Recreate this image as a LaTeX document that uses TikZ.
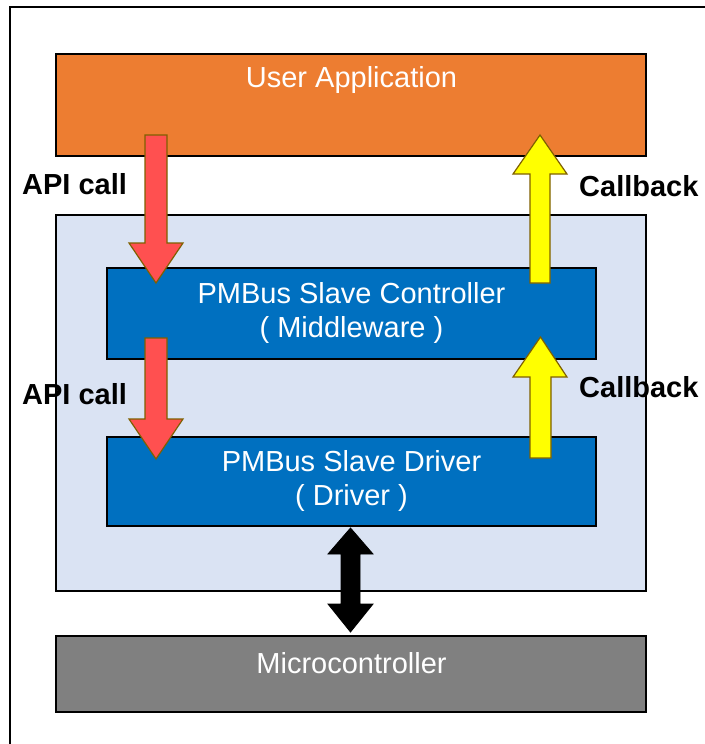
\documentclass[tikz,border=0pt]{standalone}
\usepackage{fontspec}
\setmainfont{Liberation Sans}
\definecolor{uaorange}{HTML}{ED7D31}
\definecolor{pale}{HTML}{DAE3F3}
\definecolor{mwblue}{HTML}{0070C0}
\definecolor{mcgray}{HTML}{808080}
\definecolor{redarrow}{HTML}{FF5050}
\definecolor{yelarrow}{HTML}{FFFF00}
\definecolor{arrowedge}{HTML}{7F6000}
\begin{document}
\begin{tikzpicture}[x=1pt,y=-1pt,
  box/.style={draw=black,line width=1.3pt,inner sep=0pt},
  boxtext/.style={text=white,font=\fontsize{29}{34}\selectfont,anchor=base},
  lbl/.style={font=\fontsize{29}{34}\selectfont\bfseries,anchor=base west,inner sep=0pt},
  redblk/.style={fill=redarrow,draw=arrowedge,line width=1.2pt,line join=miter},
  yelblk/.style={fill=yelarrow,draw=arrowedge,line width=1.2pt,line join=miter},
  blkblk/.style={fill=black,draw=black,line width=0.8pt,line join=miter}]
\useasboundingbox (0,0) rectangle (704,744);
% outer frame
\draw[line width=2pt] (9.5,746) -- (9.5,7) -- (706,7);
% boxes
\path[box,fill=uaorange] (56,54) rectangle (646,156);
\path[box,fill=pale] (56,215) rectangle (646,591);
\path[box,fill=mwblue] (107,268) rectangle (596,359);
\path[box,fill=mwblue] (107,437) rectangle (596,526);
\path[box,fill=mcgray] (56,636) rectangle (646,712);
% box texts
\node[boxtext] (ua) at (351.5,87.5) {User Application};
\node[boxtext] (mw1) at (351.5,303) {PMBus Slave Controller};
\node[boxtext] (mw2) at (351.5,337) {( Middleware )};
\node[boxtext] (dr1) at (351.5,471) {PMBus Slave Driver};
\node[boxtext] (dr2) at (351.5,505) {( Driver )};
\node[boxtext] (mc) at (351.5,673) {Microcontroller};
% red arrows (API call)
\draw[redblk] (145,135) -- (167,135) -- (167,243) -- (183,243) -- (156,283) -- (129,243) -- (145,243) -- cycle;
\draw[redblk] (145,338) -- (167,338) -- (167,419) -- (183,419) -- (156,459) -- (129,419) -- (145,419) -- cycle;
% yellow arrows (Callback)
\draw[yelblk] (530,283) -- (550,283) -- (550,174) -- (567,174) -- (540,135) -- (513,174) -- (530,174) -- cycle;
\draw[yelblk] (530,458) -- (551,458) -- (551,377) -- (567,377) -- (540.5,337) -- (513,377) -- (530,377) -- cycle;
% black double arrow
\draw[blkblk] (350.5,528) -- (373,554) -- (360,554) -- (360,604) -- (373,604) -- (350.5,632) -- (328,604) -- (341,604) -- (341,554) -- (328,554) -- cycle;
% labels
\node[lbl] (api1) at (22,194) {API call};
\node[lbl] (api2) at (22,404) {API call};
\node[lbl] (cb1) at (579,196) {Callback};
\node[lbl] (cb2) at (579,397) {Callback};
\end{tikzpicture}
\end{document}
